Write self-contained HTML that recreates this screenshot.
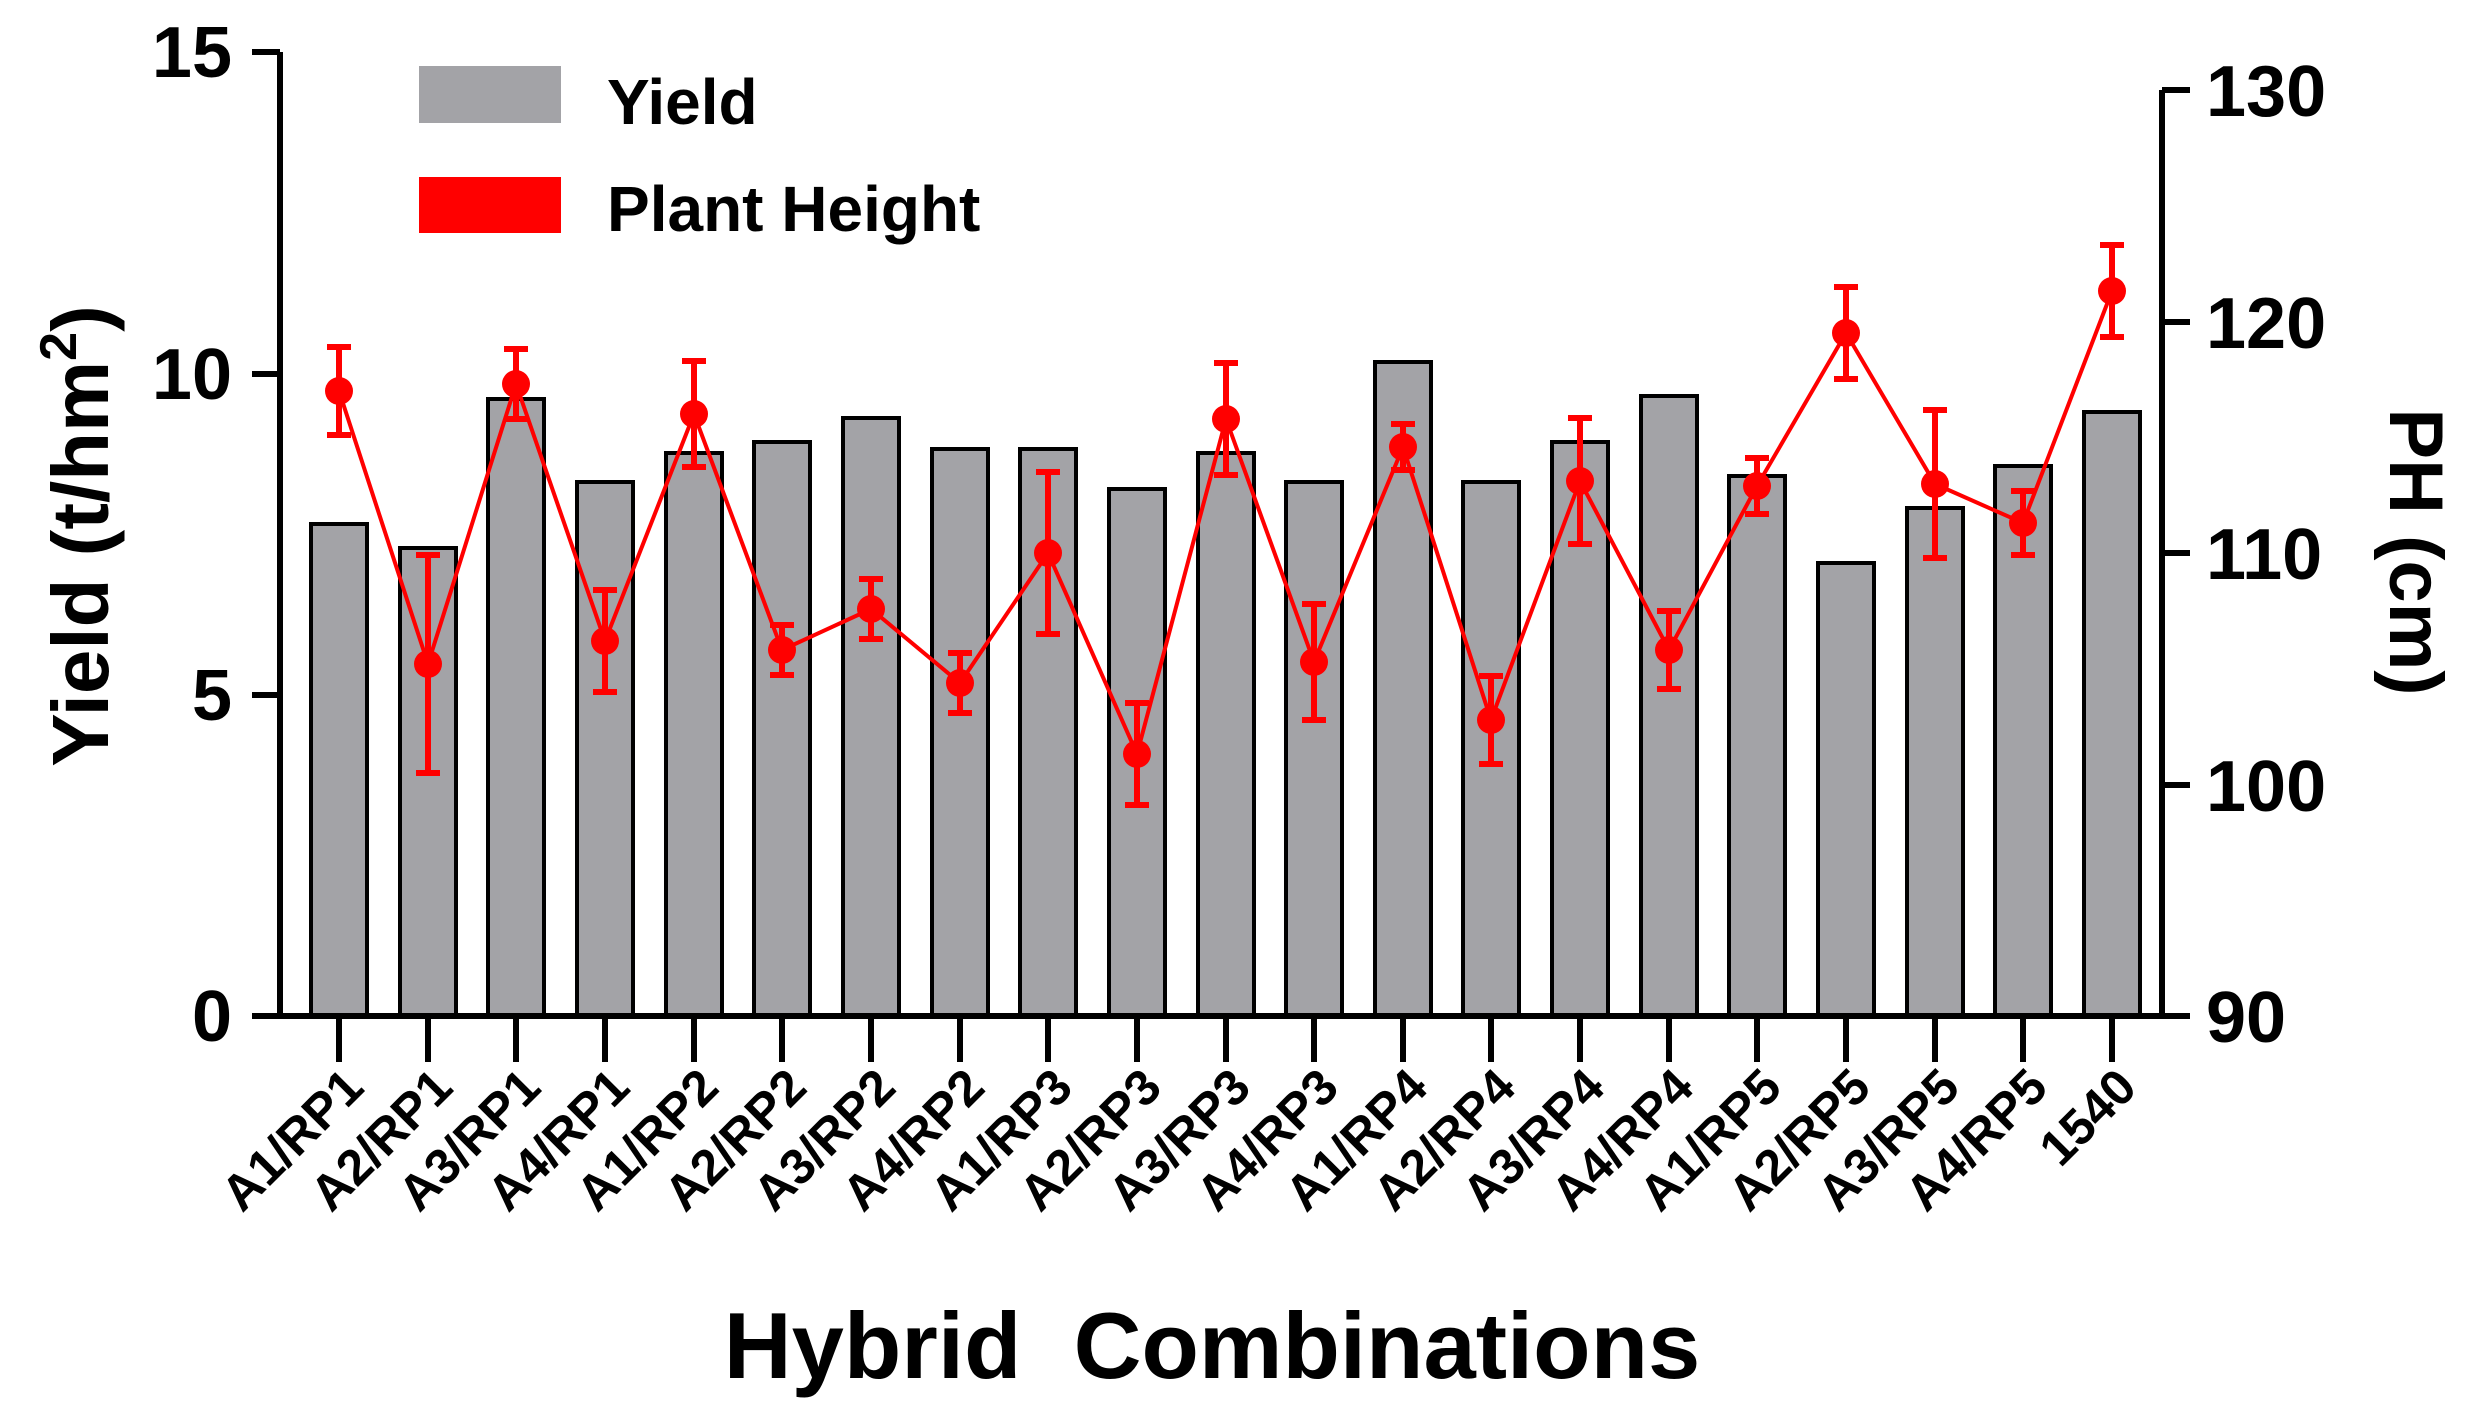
<!DOCTYPE html>
<html><head><meta charset="utf-8"><style>
html,body{margin:0;padding:0;background:#fff;}
svg{display:block;font-family:"Liberation Sans",Arial,sans-serif;font-weight:bold;}
</style></head><body>
<svg width="2471" height="1417" viewBox="0 0 2471 1417" xmlns="http://www.w3.org/2000/svg">
<g fill="#a3a3a7" stroke="#000" stroke-width="4">
<rect x="311" y="524" width="56" height="492"/>
<rect x="400" y="548" width="56" height="468"/>
<rect x="488" y="399" width="56" height="617"/>
<rect x="577" y="482" width="56" height="534"/>
<rect x="666" y="453" width="56" height="563"/>
<rect x="754" y="442" width="56" height="574"/>
<rect x="843" y="418" width="56" height="598"/>
<rect x="932" y="449" width="56" height="567"/>
<rect x="1020" y="449" width="56" height="567"/>
<rect x="1109" y="489" width="56" height="527"/>
<rect x="1198" y="453" width="56" height="563"/>
<rect x="1286" y="482" width="56" height="534"/>
<rect x="1375" y="362" width="56" height="654"/>
<rect x="1463" y="482" width="56" height="534"/>
<rect x="1552" y="442" width="56" height="574"/>
<rect x="1641" y="396" width="56" height="620"/>
<rect x="1729" y="476" width="56" height="540"/>
<rect x="1818" y="563" width="56" height="453"/>
<rect x="1907" y="508" width="56" height="508"/>
<rect x="1995" y="466" width="56" height="550"/>
<rect x="2084" y="412" width="56" height="604"/>
</g>
<polyline fill="none" stroke="#f00" stroke-width="4" points="339,391 428,664 516,384 605,641 694,414 782,650 871,609 960,683 1048,553 1137,754 1226,419 1314,662 1403,447 1491,720 1580,481 1669,650 1757,486 1846,333 1935,484 2023,523 2112,291"/>
<g stroke="#f00" stroke-width="6" fill="none">
<path d="M339,347V435M327,347H351M327,435H351"/>
<path d="M428,555V773M416,555H440M416,773H440"/>
<path d="M516,349V419M504,349H528M504,419H528"/>
<path d="M605,590V692M593,590H617M593,692H617"/>
<path d="M694,361V467M682,361H706M682,467H706"/>
<path d="M782,625V675M770,625H794M770,675H794"/>
<path d="M871,579V639M859,579H883M859,639H883"/>
<path d="M960,653V713M948,653H972M948,713H972"/>
<path d="M1048,472V634M1036,472H1060M1036,634H1060"/>
<path d="M1137,703V805M1125,703H1149M1125,805H1149"/>
<path d="M1226,363V475M1214,363H1238M1214,475H1238"/>
<path d="M1314,604V720M1302,604H1326M1302,720H1326"/>
<path d="M1403,424V470M1391,424H1415M1391,470H1415"/>
<path d="M1491,676V764M1479,676H1503M1479,764H1503"/>
<path d="M1580,418V544M1568,418H1592M1568,544H1592"/>
<path d="M1669,611V689M1657,611H1681M1657,689H1681"/>
<path d="M1757,458V514M1745,458H1769M1745,514H1769"/>
<path d="M1846,287V379M1834,287H1858M1834,379H1858"/>
<path d="M1935,410V558M1923,410H1947M1923,558H1947"/>
<path d="M2023,491V555M2011,491H2035M2011,555H2035"/>
<path d="M2112,245V337M2100,245H2124M2100,337H2124"/>
</g>
<g fill="#f00">
<circle cx="339" cy="391" r="14"/><circle cx="428" cy="664" r="14"/><circle cx="516" cy="384" r="14"/><circle cx="605" cy="641" r="14"/><circle cx="694" cy="414" r="14"/><circle cx="782" cy="650" r="14"/><circle cx="871" cy="609" r="14"/><circle cx="960" cy="683" r="14"/><circle cx="1048" cy="553" r="14"/><circle cx="1137" cy="754" r="14"/><circle cx="1226" cy="419" r="14"/><circle cx="1314" cy="662" r="14"/><circle cx="1403" cy="447" r="14"/><circle cx="1491" cy="720" r="14"/><circle cx="1580" cy="481" r="14"/><circle cx="1669" cy="650" r="14"/><circle cx="1757" cy="486" r="14"/><circle cx="1846" cy="333" r="14"/><circle cx="1935" cy="484" r="14"/><circle cx="2023" cy="523" r="14"/><circle cx="2112" cy="291" r="14"/>
</g>
<g stroke="#000" stroke-width="6" fill="none">
<path d="M280,52V1016H2162V90"/>
<path d="M252,52H280M252,374H280M252,695H280M252,1016H280"/>
<path d="M2162,90H2190M2162,322H2190M2162,553H2190M2162,785H2190M2162,1016H2190"/>
<path d="M339,1016V1062M428,1016V1062M516,1016V1062M605,1016V1062M694,1016V1062M782,1016V1062M871,1016V1062M960,1016V1062M1048,1016V1062M1137,1016V1062M1226,1016V1062M1314,1016V1062M1403,1016V1062M1491,1016V1062M1580,1016V1062M1669,1016V1062M1757,1016V1062M1846,1016V1062M1935,1016V1062M2023,1016V1062M2112,1016V1062"/>
</g>
<g font-size="72" text-anchor="end">
<text x="232" y="77">15</text><text x="232" y="399">10</text><text x="232" y="720">5</text><text x="232" y="1041">0</text>
</g>
<g font-size="72" text-anchor="start">
<text x="2206" y="116">130</text><text x="2206" y="348">120</text><text x="2206" y="579">110</text><text x="2206" y="811">100</text><text x="2206" y="1042">90</text>
</g>
<g font-size="50" text-anchor="end">
<text transform="translate(366,1090) rotate(-45)">A1/RP1</text>
<text transform="translate(455,1090) rotate(-45)">A2/RP1</text>
<text transform="translate(543,1090) rotate(-45)">A3/RP1</text>
<text transform="translate(632,1090) rotate(-45)">A4/RP1</text>
<text transform="translate(721,1090) rotate(-45)">A1/RP2</text>
<text transform="translate(809,1090) rotate(-45)">A2/RP2</text>
<text transform="translate(898,1090) rotate(-45)">A3/RP2</text>
<text transform="translate(987,1090) rotate(-45)">A4/RP2</text>
<text transform="translate(1075,1090) rotate(-45)">A1/RP3</text>
<text transform="translate(1164,1090) rotate(-45)">A2/RP3</text>
<text transform="translate(1253,1090) rotate(-45)">A3/RP3</text>
<text transform="translate(1341,1090) rotate(-45)">A4/RP3</text>
<text transform="translate(1430,1090) rotate(-45)">A1/RP4</text>
<text transform="translate(1518,1090) rotate(-45)">A2/RP4</text>
<text transform="translate(1607,1090) rotate(-45)">A3/RP4</text>
<text transform="translate(1696,1090) rotate(-45)">A4/RP4</text>
<text transform="translate(1784,1090) rotate(-45)">A1/RP5</text>
<text transform="translate(1873,1090) rotate(-45)">A2/RP5</text>
<text transform="translate(1962,1090) rotate(-45)">A3/RP5</text>
<text transform="translate(2050,1090) rotate(-45)">A4/RP5</text>
<text transform="translate(2139,1090) rotate(-45)">1540</text>
</g>
<text x="1212" y="1378" font-size="94" text-anchor="middle" xml:space="preserve">Hybrid  Combinations</text>
<text transform="translate(108,536) rotate(-90)" font-size="80" text-anchor="middle">Yield (t/hm<tspan font-size="52" dy="-32">2</tspan><tspan dy="32">)</tspan></text>
<text transform="translate(2390,552) rotate(90)" font-size="76" text-anchor="middle">PH (cm)</text>
<rect x="419" y="66" width="142" height="57" fill="#a3a3a7"/>
<rect x="419" y="177" width="142" height="56" fill="#f00"/>
<text x="607" y="124" font-size="64">Yield</text>
<text x="607" y="231" font-size="64">Plant Height</text>
</svg>
</body></html>
